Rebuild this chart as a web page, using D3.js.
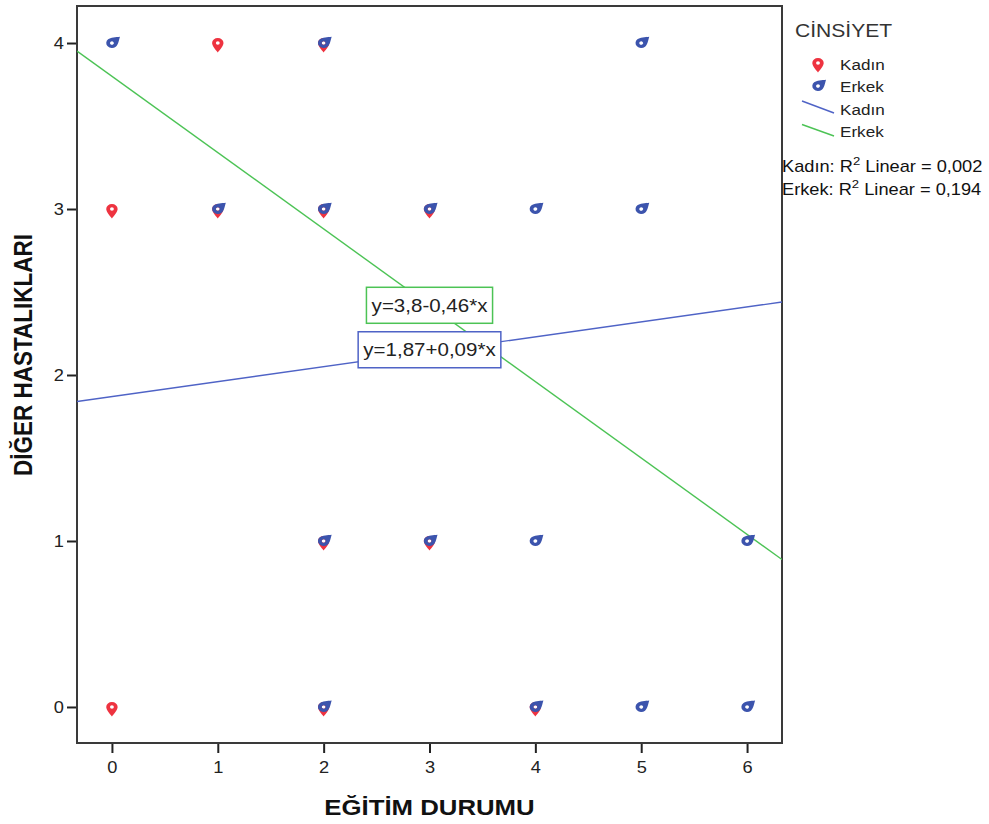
<!DOCTYPE html>
<html>
<head>
<meta charset="utf-8">
<script src="https://cdn.jsdelivr.net/npm/d3@7"></script>
<style>
  body { margin: 0; background: #fff; }
  text { font-family: "Liberation Sans", Arial, sans-serif; }
</style>
</head>
<body>
<svg id="chart" width="989" height="824"></svg>
<script>
// data: EĞİTİM DURUMU (x) vs DİĞER HASTALIKLARI (y), by CİNSİYET
let kadinX = [1, 2, 0, 1, 2, 3, 2, 3, 0, 2, 4];
let kadinY = [4, 4, 3, 3, 3, 3, 1, 1, 0, 0, 0];
let erkekX = [0, 2, 5, 1, 2, 3, 4, 5, 2, 3, 4, 6, 2, 4, 5, 6];
let erkekY = [4, 4, 4, 3, 3, 3, 3, 3, 1, 1, 1, 1, 0, 0, 0, 0];
let xTicks = [0, 1, 2, 3, 4, 5, 6];
let yTicks = [0, 1, 2, 3, 4];
// fit lines: intercept, slope
let kadinFit = [1.87, 0.09];
let erkekFit = [3.8, -0.46];
let kadinLabel = "y=1,87+0,09*x";
let erkekLabel = "y=3,8-0,46*x";
let r2Lines = ["Kadın: R² Linear = 0,002", "Erkek: R² Linear = 0,194"];

let svg = d3.select("#chart");
let pLeft = 77, pRight = 782, pTop = 6, pBottom = 743;
let sx = 1.14; // the original output is a bit wider than tall

let x = d3.scaleLinear().domain([-0.33, 6.33]).range([pLeft, pRight]);
let y = d3.scaleLinear().domain([-0.217, 4.223]).range([pBottom, pTop]);

let redCol = "#ee3340", blueCol = "#3c54ad";
let blueLine = "#4f63c6", greenLine = "#4cc355";

// pin marker: ring at origin, tail pointing down
let pin = "M0,9.5 C-2,6.5 -5,2.8 -5,0 A5,5 0 1,1 5,0 C5,2.8 2,6.5 0,9.5 Z M1.7,0 A1.7,1.7 0 1,0 -1.7,0 A1.7,1.7 0 1,0 1.7,0 Z";

// horizontal text, stretched like the original
function hText(g, tx, ty, size, str, anchor) {
    return g.append("text")
        .attr("transform", `translate(${tx},${ty}) scale(${sx},1)`)
        .attr("text-anchor", anchor || "start")
        .attr("font-size", size)
        .text(str);
}

// axes
let xAxis = d3.axisBottom(x).tickValues(xTicks).tickSize(10).tickPadding(9).tickFormat(d3.format("d"));
let yAxis = d3.axisLeft(y).tickValues(yTicks).tickSize(10).tickPadding(3).tickFormat(d3.format("d"));

let gx = svg.append("g").attr("transform", `translate(0,${pBottom})`).call(xAxis);
let gy = svg.append("g").attr("transform", `translate(${pLeft},0)`).call(yAxis);
[gx, gy].forEach(g => {
    g.select(".domain").remove();
    g.selectAll("line").attr("stroke", "#222").attr("stroke-width", 2);
    g.selectAll("text").attr("font-size", 16).attr("fill", "#222")
        .style("font-family", "'Liberation Sans', Arial, sans-serif")
        .attr("transform", `scale(${sx},1)`);
});
gy.selectAll("text").attr("x", -13 / sx);

// frame
svg.append("rect")
    .attr("x", pLeft).attr("y", pTop)
    .attr("width", pRight - pLeft).attr("height", pBottom - pTop)
    .attr("fill", "none").attr("stroke", "#3a3a3a").attr("stroke-width", 2);

let plot = svg.append("g");
plot.append("clipPath").attr("id", "clip").append("rect")
    .attr("x", pLeft).attr("y", pTop).attr("width", pRight - pLeft).attr("height", pBottom - pTop);

// fit lines
let line = d3.line().x(d => x(d[0])).y(d => y(d[1]));
function fitPts(f) {
    return x.domain().map(v => [v, f[0] + f[1] * v]);
}
plot.append("path").datum(fitPts(kadinFit)).attr("d", line)
    .attr("fill", "none").attr("stroke", blueLine).attr("stroke-width", 1.4)
    .attr("clip-path", "url(#clip)");
plot.append("path").datum(fitPts(erkekFit)).attr("d", line)
    .attr("fill", "none").attr("stroke", greenLine).attr("stroke-width", 1.4)
    .attr("clip-path", "url(#clip)");

// points
let kadin = kadinX.map((v, i) => [v, kadinY[i]]);
let erkek = erkekX.map((v, i) => [v, erkekY[i]]);

plot.selectAll(".kadin").data(kadin).enter().append("path")
    .attr("class", "kadin")
    .attr("d", pin).attr("fill-rule", "evenodd").attr("fill", redCol)
    .attr("transform", d => `translate(${x(d[0])},${y(d[1])}) scale(${sx},1)`);

plot.selectAll(".erkek").data(erkek).enter().append("path")
    .attr("class", "erkek")
    .attr("d", pin).attr("fill-rule", "evenodd").attr("fill", blueCol)
    .attr("transform", d => `translate(${x(d[0])},${y(d[1])}) scale(${sx},1) rotate(-132)`);

// equation labels, centred on each line at x = 3
function eqBox(f, label, col, yOff) {
    let cx = x(3), cy = y(f[0] + f[1] * 3) + yOff;
    let g = plot.append("g");
    let t = hText(g, cx, cy + 6.5, 18, label, "middle").attr("fill", "#222");
    let w = t.node().getBBox().width * sx;
    g.insert("rect", "text")
        .attr("x", cx - w / 2 - 5).attr("y", cy - 18)
        .attr("width", w + 10).attr("height", 36)
        .attr("fill", "#fff").attr("stroke", col).attr("stroke-width", 1.5);
}
eqBox(erkekFit, erkekLabel, greenLine, 0);
eqBox(kadinFit, kadinLabel, blueLine, -2);

// axis titles
hText(svg, (pLeft + pRight) / 2, 815, 22.6, "EĞİTİM DURUMU", "middle")
    .attr("font-weight", "bold").attr("fill", "#111");
svg.append("text")
    .attr("transform", `translate(32,355) rotate(-90) scale(1,${sx})`)
    .attr("text-anchor", "middle").attr("font-size", 22.5).attr("font-weight", "bold")
    .attr("fill", "#111").text("DİĞER HASTALIKLARI");

// legend
let lg = svg.append("g");
hText(lg, 795, 37, 18.5, "CİNSİYET").attr("fill", "#333");
lg.append("path").attr("d", pin).attr("fill-rule", "evenodd").attr("fill", redCol)
    .attr("transform", `translate(818,63) scale(${sx},1)`);
hText(lg, 840, 70, 15, "Kadın").attr("fill", "#222");
lg.append("path").attr("d", pin).attr("fill-rule", "evenodd").attr("fill", blueCol)
    .attr("transform", `translate(818,86) scale(${sx},1) rotate(-132)`);
hText(lg, 840, 91.5, 15, "Erkek").attr("fill", "#222");
lg.append("line").attr("x1", 802).attr("y1", 101).attr("x2", 834).attr("y2", 113)
    .attr("stroke", blueLine).attr("stroke-width", 1.4);
hText(lg, 840, 115, 15, "Kadın").attr("fill", "#222");
lg.append("line").attr("x1", 802).attr("y1", 124.5).attr("x2", 834).attr("y2", 136)
    .attr("stroke", greenLine).attr("stroke-width", 1.4);
hText(lg, 840, 136.5, 15, "Erkek").attr("fill", "#222");

r2Lines.forEach((s, i) => {
    let parts = s.split("²");
    let t = hText(lg, 782, 172 + i * 23, 16, "").attr("fill", "#111");
    t.append("tspan").text(parts[0]);
    t.append("tspan").attr("dy", -7).attr("font-size", 11.5).text("2");
    t.append("tspan").attr("dy", 7).text(parts[1]);
});
</script>
</body>
</html>
